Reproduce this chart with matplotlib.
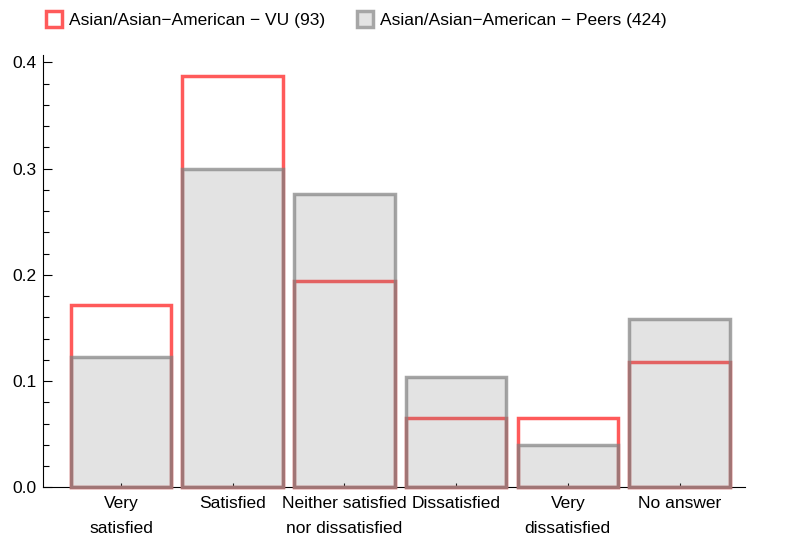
import numpy as np
import matplotlib
matplotlib.use("Agg")
import matplotlib.pyplot as plt
from matplotlib.lines import Line2D
from matplotlib.ticker import MultipleLocator

plt.rcParams.update({
    "font.family": ["Liberation Sans", "DejaVu Sans"],
    "font.size": 12.5,
})

categories = ["Very\nsatisfied", "Satisfied", "Neither satisfied\nnor dissatisfied",
              "Dissatisfied", "Very\ndissatisfied", "No answer"]
vu_label = "Asian/Asian\u2212American \u2212 VU (93)"
peers_label = "Asian/Asian\u2212American \u2212 Peers (424)"
vu_share = [0.172, 0.387, 0.194, 0.065, 0.065, 0.118]
peers_share = [0.123, 0.300, 0.276, 0.104, 0.040, 0.158]

red = "#ff5a5a"
gray_edge = (0.5, 0.5, 0.5, 0.7)
gray_fill = (0.5, 0.5, 0.5, 0.22)

fig = plt.figure(figsize=(7.85, 5.38), dpi=100)
ax = fig.add_axes([0.0554, 0.0942, 0.8936, 0.8036])

x = np.arange(len(categories))
width = 0.9

ax.bar(x, vu_share, width, facecolor="none", edgecolor=red,
       linewidth=2.5, zorder=2, clip_on=False)
ax.bar(x, peers_share, width, facecolor=gray_fill, edgecolor=gray_edge,
       linewidth=2.5, zorder=3, clip_on=False)

ax.set_xlim(-0.694, 5.586)
ax.set_ylim(0, 0.407)

ax.set_xticks(x)
ax.set_xticklabels(categories, linespacing=1.9)
ax.yaxis.set_major_locator(MultipleLocator(0.1))
ax.yaxis.set_minor_locator(MultipleLocator(0.02))
ax.yaxis.set_major_formatter(plt.FuncFormatter(lambda v, p: f"{v:.1f}"))

ax.tick_params(axis="y", which="major", direction="in", length=6.5, width=0.8, pad=5)
ax.tick_params(axis="y", which="minor", direction="in", length=4, width=0.8)
ax.tick_params(axis="x", which="major", direction="in", length=3, width=0.8, pad=6)

for side in ["top", "right"]:
    ax.spines[side].set_visible(False)
for side in ["left", "bottom"]:
    ax.spines[side].set_linewidth(0.8)
    ax.spines[side].set_zorder(1)

handles = [
    Line2D([], [], linestyle="none", marker="s", markersize=12,
           markerfacecolor="white", markeredgecolor=red, markeredgewidth=2.5),
    Line2D([], [], linestyle="none", marker="s", markersize=12,
           markerfacecolor="#e3e3e3", markeredgecolor="#a6a6a6", markeredgewidth=2.5),
]
fig.legend(handles, [vu_label, peers_label], loc="upper left",
           bbox_to_anchor=(0.038, 1.005), ncol=2, frameon=False,
           handlelength=1.0, handletextpad=0.35, columnspacing=1.8, fontsize=12.5)

fig.savefig("out.png", dpi=100)
